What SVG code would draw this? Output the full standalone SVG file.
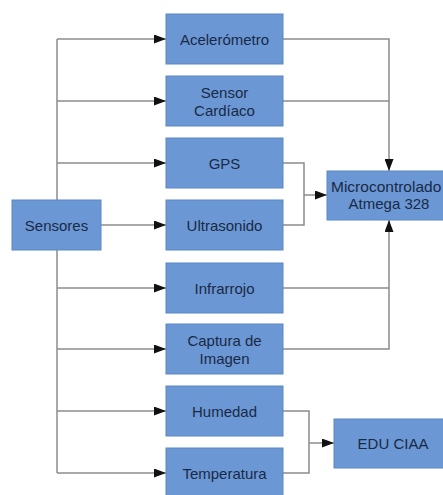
<svg xmlns="http://www.w3.org/2000/svg" width="443" height="495" viewBox="0 0 443 495">
<style>
.box{fill:#6b98d4;stroke:#5b88c4;stroke-width:1}
.lbl{font-family:"Liberation Sans",Arial,sans-serif;font-size:15px;fill:#1a2946;text-anchor:middle;dominant-baseline:central}
.ln{fill:none;stroke:#8c8c8c;stroke-width:1.5}
.ar{marker-end:url(#ah)}
</style>
<defs>
<marker id="ah" markerUnits="userSpaceOnUse" markerWidth="12" markerHeight="9" refX="12" refY="4.5" orient="auto">
<path d="M0,0 L12,4.5 L0,9 Z" fill="#111"/>
</marker>
</defs>
<rect width="443" height="495" fill="#ffffff"/>
<g id="connectors">
<path class="ln" d="M57,39 V473"/>
<path class="ln ar" d="M57,39 H166"/>
<path class="ln ar" d="M57,101 H166"/>
<path class="ln ar" d="M57,163 H166"/>
<path class="ln ar" d="M101,225 H166"/>
<path class="ln ar" d="M57,288 H166"/>
<path class="ln ar" d="M57,349 H166"/>
<path class="ln ar" d="M57,411 H166"/>
<path class="ln ar" d="M57,473 H166"/>
<path class="ln ar" d="M283,39 H389 V171"/>
<path class="ln" d="M283,101 H389"/>
<path class="ln" d="M283,163 H304 V225 H283"/>
<path class="ln ar" d="M304,195 H327"/>
<path class="ln" d="M283,288 H389"/>
<path class="ln ar" d="M283,349 H389 V220"/>
<path class="ln" d="M283,411 H309 V473 H283"/>
<path class="ln ar" d="M309,443 H334"/>
</g>
<g id="sensores"><rect class="box" x="12" y="200" width="89" height="50"/><text class="lbl" x="56.5" y="225">Sensores</text></g>
<g id="acelerometro"><rect class="box" x="166" y="14" width="117" height="50"/><text class="lbl" x="224.5" y="39">Acelerómetro</text></g>
<g id="cardiaco"><rect class="box" x="166" y="76" width="117" height="50"/><text class="lbl" x="224.5" y="92">Sensor</text><text class="lbl" x="224.5" y="110">Cardíaco</text></g>
<g id="gps"><rect class="box" x="166" y="138" width="117" height="50"/><text class="lbl" x="224.5" y="163">GPS</text></g>
<g id="ultrasonido"><rect class="box" x="166" y="200" width="117" height="50"/><text class="lbl" x="224.5" y="225">Ultrasonido</text></g>
<g id="infrarrojo"><rect class="box" x="166" y="263" width="117" height="50"/><text class="lbl" x="224.5" y="288">Infrarrojo</text></g>
<g id="captura"><rect class="box" x="166" y="324" width="117" height="50"/><text class="lbl" x="224.5" y="340">Captura de</text><text class="lbl" x="224.5" y="358">Imagen</text></g>
<g id="humedad"><rect class="box" x="166" y="386" width="117" height="50"/><text class="lbl" x="224.5" y="411">Humedad</text></g>
<g id="temperatura"><rect class="box" x="166" y="448" width="117" height="50"/><text class="lbl" x="224.5" y="473">Temperatura</text></g>
<g id="micro"><rect class="box" x="327" y="171" width="124" height="49"/><text class="lbl" x="331" y="186" style="text-anchor:start;font-size:15.5px">Microcontrolado</text><text class="lbl" x="389" y="203">Atmega 328</text></g>
<g id="educiaa"><rect class="box" x="334" y="419" width="118" height="49"/><text class="lbl" x="393" y="443">EDU CIAA</text></g>
</svg>
